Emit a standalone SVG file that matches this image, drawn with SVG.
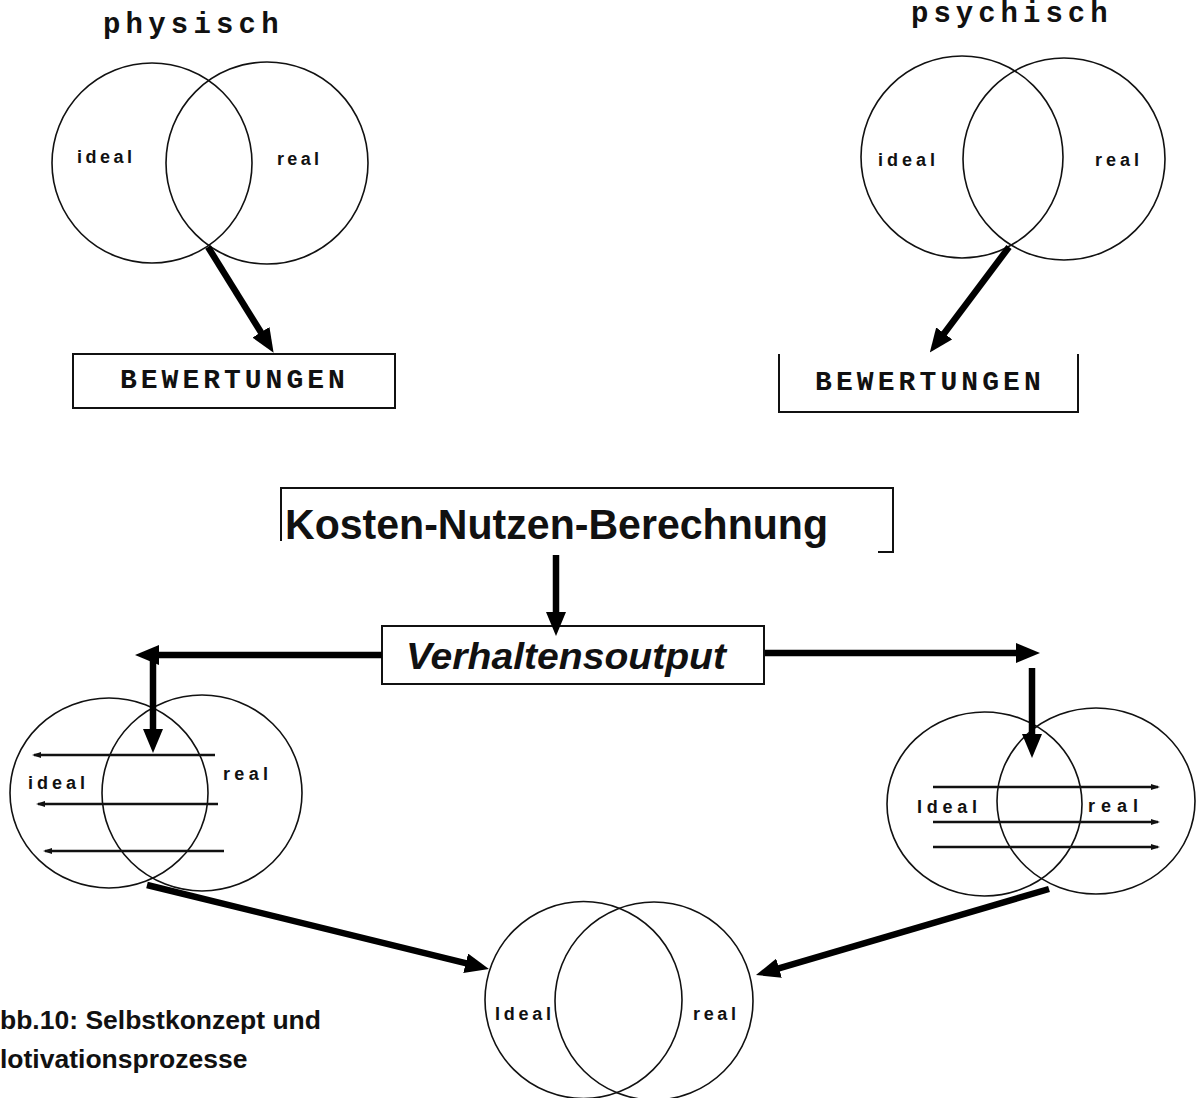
<svg xmlns="http://www.w3.org/2000/svg" width="1201" height="1098" viewBox="0 0 1201 1098">
  <style>
    .ring { fill: none; stroke: #111; stroke-width: 1.6; }
    .frame { fill: none; stroke: #111; stroke-width: 2; }
    .mono { font-family: "Liberation Mono", "Courier New", monospace; font-weight: bold; fill: #111; }
    .lbl { font-family: "Liberation Sans", Arial, sans-serif; font-weight: bold; font-size: 18px; fill: #111; }
    .big { font-family: "Liberation Sans", Arial, sans-serif; font-weight: bold; fill: #111; }
    .flow { fill: none; stroke: #000; stroke-width: 6.5; marker-end: url(#head); }
    .thin { fill: none; stroke: #111; stroke-width: 2.4; }
  </style>
  <defs>
    <marker id="head" markerUnits="userSpaceOnUse" markerWidth="24" markerHeight="20" refX="2" refY="10" orient="auto">
      <path d="M0,0 L24,10 L0,20 Z" fill="#000"/>
    </marker>
    <marker id="tick" markerUnits="userSpaceOnUse" markerWidth="9" markerHeight="6" refX="7" refY="3" orient="auto">
      <path d="M0,0 L9,3 L0,6 Z" fill="#111"/>
    </marker>
  </defs>

  <rect width="1201" height="1098" fill="#fff"/>

  <!-- physical self-concept -->
  <g id="venn-physisch">
    <text class="mono" x="103" y="33" font-size="29" letter-spacing="5.2">physisch</text>
    <circle class="ring" cx="152" cy="163" r="100"/>
    <circle class="ring" cx="267" cy="163" r="101"/>
    <text class="lbl" x="77" y="163" textLength="55" lengthAdjust="spacing">ideal</text>
    <text class="lbl" x="277" y="165" textLength="42" lengthAdjust="spacing">real</text>
  </g>
  <g id="bewertungen-physisch">
    <rect class="frame" x="73" y="354" width="322" height="54"/>
    <text class="mono" x="120" y="388" font-size="28" letter-spacing="4">BEWERTUNGEN</text>
  </g>

  <!-- psychological self-concept -->
  <g id="venn-psychisch">
    <text class="mono" x="911" y="22" font-size="29" letter-spacing="5">psychisch</text>
    <circle class="ring" cx="962" cy="157" r="101"/>
    <circle class="ring" cx="1064" cy="159" r="101"/>
    <text class="lbl" x="878" y="166" textLength="57" lengthAdjust="spacing">ideal</text>
    <text class="lbl" x="1095" y="166" textLength="44" lengthAdjust="spacing">real</text>
  </g>
  <g id="bewertungen-psychisch">
    <path class="frame" d="M779,354 V412 H1078 V354"/>
    <text class="mono" x="815" y="390" font-size="28" letter-spacing="4.1">BEWERTUNGEN</text>
  </g>

  <!-- cost-benefit box -->
  <g id="kosten-nutzen">
    <path class="frame" d="M281,541 V488 H893 V552 H878"/>
    <text class="big" x="285" y="539" font-size="42" textLength="543" lengthAdjust="spacingAndGlyphs">Kosten-Nutzen-Berechnung</text>
  </g>

  <g id="verhaltensoutput">
    <rect class="frame" x="382" y="626" width="382" height="58"/>
    <text class="big" x="406" y="669" font-size="36" font-style="italic" textLength="320" lengthAdjust="spacingAndGlyphs">Verhaltensoutput</text>
  </g>

  <!-- left behaviour diagram -->
  <g id="venn-links">
    <ellipse class="ring" cx="109" cy="793" rx="99" ry="95"/>
    <ellipse class="ring" cx="202" cy="793" rx="100" ry="98"/>
    <line class="thin" x1="215" y1="755" x2="34" y2="755" marker-end="url(#tick)"/>
    <line class="thin" x1="218" y1="804" x2="38" y2="804" marker-end="url(#tick)"/>
    <line class="thin" x1="224" y1="851" x2="45" y2="851" marker-end="url(#tick)"/>
    <text class="lbl" x="28" y="789" textLength="57" lengthAdjust="spacing">ideal</text>
    <text class="lbl" x="223" y="780" textLength="45" lengthAdjust="spacing">real</text>
  </g>

  <!-- right behaviour diagram -->
  <g id="venn-rechts">
    <ellipse class="ring" cx="984.5" cy="804" rx="97.5" ry="92"/>
    <ellipse class="ring" cx="1096" cy="801" rx="99" ry="93"/>
    <line class="thin" x1="933" y1="787" x2="1158" y2="787" marker-end="url(#tick)"/>
    <line class="thin" x1="933" y1="822" x2="1158" y2="822" marker-end="url(#tick)"/>
    <line class="thin" x1="933" y1="847" x2="1158" y2="847" marker-end="url(#tick)"/>
    <text class="lbl" x="917" y="813" textLength="60" lengthAdjust="spacing">Ideal</text>
    <text class="lbl" x="1088" y="812" textLength="50" lengthAdjust="spacing">real</text>
  </g>

  <!-- resulting self-concept -->
  <g id="venn-unten">
    <circle class="ring" cx="583.5" cy="1000" r="98.5"/>
    <circle class="ring" cx="654" cy="1001" r="99"/>
    <text class="lbl" x="495" y="1020" textLength="56" lengthAdjust="spacing">Ideal</text>
    <text class="lbl" x="693" y="1020" textLength="43" lengthAdjust="spacing">real</text>
  </g>

  <g id="caption">
    <text class="big" x="0" y="1029" font-size="26.5">bb.10: Selbstkonzept und</text>
    <text class="big" x="0" y="1068" font-size="26.5">lotivationsprozesse</text>
  </g>

  <!-- connectors -->
  <g id="connectors">
    <line class="flow" x1="208" y1="247" x2="262" y2="334"/>
    <line class="flow" x1="1009" y1="247" x2="943" y2="335"/>
    <line class="flow" stroke-width="5" x1="556" y1="555" x2="556" y2="614"/>
    <line class="flow" x1="382" y1="655" x2="157" y2="655"/>
    <line class="flow" x1="153" y1="652" x2="153" y2="731"/>
    <line class="flow" x1="765" y1="653" x2="1018" y2="653"/>
    <line class="flow" x1="1032" y1="668" x2="1032" y2="736"/>
    <line class="flow" x1="147" y1="885" x2="467.6" y2="963.7"/>
    <line class="flow" x1="1049" y1="889" x2="777.1" y2="968.8"/>
  </g>
</svg>
